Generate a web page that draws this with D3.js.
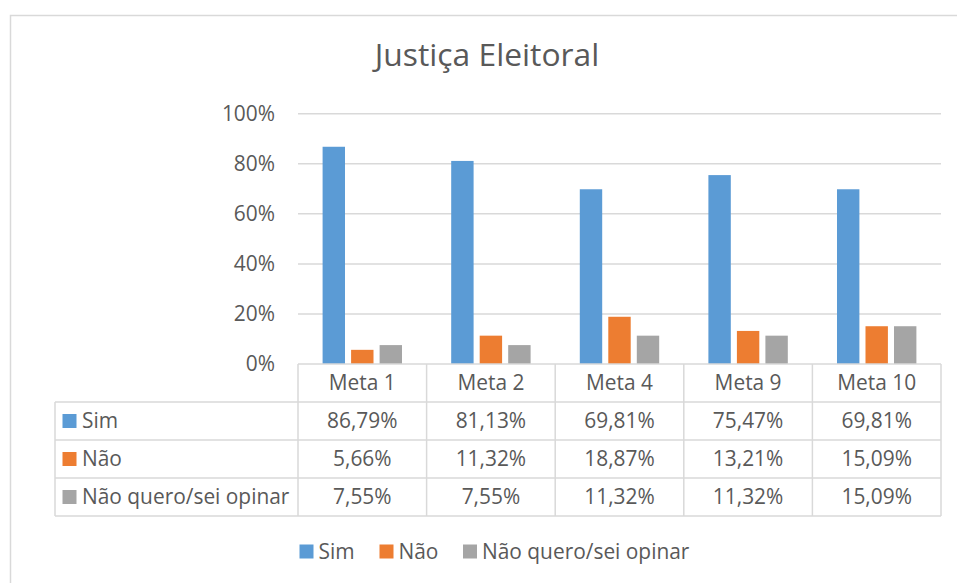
<!DOCTYPE html>
<html>
<head>
<meta charset="utf-8">
<script src="https://cdn.jsdelivr.net/npm/d3@7"></script>
<style>
  html, body { margin: 0; padding: 0; background: #fff; }
  svg { display: block; font-family: "Open Sans", sans-serif; }
  .txt { fill: #595959; }
</style>
</head>
<body>
<svg id="chart" width="957" height="583"></svg>
<script>
// --- data ---
const categories = ['Meta 1', 'Meta 2', 'Meta 4', 'Meta 9', 'Meta 10'];
const seriesNames = ['Sim', 'Não', 'Não quero/sei opinar'];
const sim = [86.79, 81.13, 69.81, 75.47, 69.81];
const nao = [5.66, 11.32, 18.87, 13.21, 15.09];
const naoSei = [7.55, 7.55, 11.32, 11.32, 15.09];
const yTicks = [0, 20, 40, 60, 80, 100];
const colors = ['#5b9bd5', '#ed7d31', '#a5a5a5'];

const seriesValues = [sim, nao, naoSei];

const svg = d3.select('#chart');
const gridColor = '#d9d9d9';
const fontSize = 20.9;

// outer chart border (runs off the picture on the right and bottom)
svg.append('rect')
  .attr('x', 10.5).attr('y', 15.5)
  .attr('width', 960).attr('height', 600)
  .attr('fill', 'none').attr('stroke', gridColor).attr('stroke-width', 1.5);

// title
svg.append('text').attr('class', 'txt')
  .attr('x', 487).attr('y', 65.5)
  .attr('text-anchor', 'middle')
  .style('font-size', '31.8px')
  .text('Justiça Eleitoral');

// --- scales ---
const plot = { left: 298, right: 941, top: 113.7, bottom: 364 };

const x0 = d3.scaleBand()
  .domain(categories)
  .range([plot.left, plot.right])
  .padding(0);

const x1 = d3.scaleBand()
  .domain(seriesNames)
  .range([0, x0.bandwidth()])
  .paddingInner(0.214)
  .paddingOuter(0.863);

const y = d3.scaleLinear().domain([0, 100]).range([plot.bottom, plot.top]);

// gridlines
svg.append('g')
  .selectAll('line')
  .data(yTicks.filter(d => d > 0))
  .join('line')
  .attr('x1', plot.left).attr('x2', plot.right)
  .attr('y1', d => y(d)).attr('y2', d => y(d))
  .attr('stroke', gridColor).attr('stroke-width', 1.5);

// y axis labels
svg.append('g')
  .selectAll('text')
  .data(yTicks)
  .join('text')
  .attr('class', 'txt')
  .attr('x', 275)
  .attr('y', d => y(d))
  .attr('dy', '0.35em')
  .attr('text-anchor', 'end')
  .style('font-size', fontSize + 'px')
  .text(d => d + '%');

// bars
const rows = categories.map((c, i) => ({
  cat: c,
  vals: seriesNames.map((s, j) => ({ name: s, value: seriesValues[j][i], color: colors[j] }))
}));

svg.append('g')
  .selectAll('g')
  .data(rows)
  .join('g')
  .attr('transform', d => `translate(${x0(d.cat)},0)`)
  .selectAll('rect')
  .data(d => d.vals)
  .join('rect')
  .attr('x', d => x1(d.name))
  .attr('width', x1.bandwidth())
  .attr('y', d => y(d.value))
  .attr('height', d => y(0) - y(d.value))
  .attr('fill', d => d.color);

// --- data table ---
const rowH = 38;
const tableLeft = 55;
const headerTop = plot.bottom;
const bodyTop = headerTop + rowH;
const tableBottom = bodyTop + rowH * seriesNames.length;

const tbl = svg.append('g');
const line = (x1_, y1_, x2_, y2_) => tbl.append('line')
  .attr('x1', x1_).attr('y1', y1_).attr('x2', x2_).attr('y2', y2_)
  .attr('stroke', gridColor).attr('stroke-width', 1.5);

// horizontal lines
line(plot.left, headerTop, plot.right, headerTop);
for (let r = 0; r <= seriesNames.length; r++) {
  line(tableLeft, bodyTop + r * rowH, plot.right, bodyTop + r * rowH);
}
// vertical lines
line(tableLeft, bodyTop, tableLeft, tableBottom);
categories.forEach(c => line(x0(c), headerTop, x0(c), tableBottom));
line(plot.right, headerTop, plot.right, tableBottom);

// category labels
tbl.selectAll('text.cat')
  .data(categories)
  .join('text')
  .attr('class', 'txt cat')
  .attr('x', d => x0(d) + x0.bandwidth() / 2)
  .attr('y', headerTop + rowH / 2)
  .attr('dy', '0.35em')
  .attr('text-anchor', 'middle')
  .style('font-size', fontSize + 'px')
  .text(d => d);

const fmt = v => v.toFixed(2).replace('.', ',') + '%';

seriesNames.forEach((name, j) => {
  const cy = bodyTop + j * rowH + rowH / 2;
  tbl.append('rect')
    .attr('x', 62.5).attr('y', cy - 7)
    .attr('width', 14).attr('height', 14)
    .attr('fill', colors[j]);
  tbl.append('text').attr('class', 'txt')
    .attr('x', 82).attr('y', cy).attr('dy', '0.35em')
    .style('font-size', fontSize + 'px')
    .text(name);
  tbl.selectAll(null)
    .data(categories)
    .enter().append('text')
    .attr('class', 'txt')
    .attr('x', d => x0(d) + x0.bandwidth() / 2)
    .attr('y', cy).attr('dy', '0.35em')
    .attr('text-anchor', 'middle')
    .style('font-size', fontSize + 'px')
    .text((d, i) => fmt(seriesValues[j][i]));
});

// --- legend ---
const legendY = 551.5;
const legendX = [299.5, 379.5, 463];
const legend = svg.append('g');
seriesNames.forEach((name, j) => {
  legend.append('rect')
    .attr('x', legendX[j]).attr('y', legendY - 7)
    .attr('width', 14).attr('height', 14)
    .attr('fill', colors[j]);
  legend.append('text').attr('class', 'txt')
    .attr('x', legendX[j] + 19).attr('y', legendY).attr('dy', '0.35em')
    .style('font-size', fontSize + 'px')
    .text(name);
});
</script>
</body>
</html>
